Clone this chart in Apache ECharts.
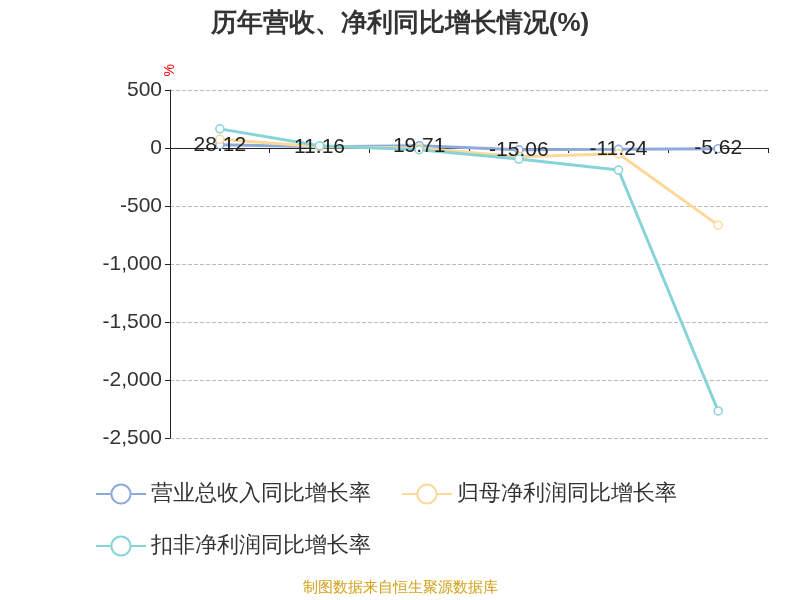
<!DOCTYPE html>
<html><head><meta charset="utf-8">
<script src="https://cdn.jsdelivr.net/npm/echarts@6/dist/echarts.min.js"></script>
<style>html,body{margin:0;padding:0}#c{width:800px;height:600px}</style>
</head><body><div id="c"></div>
<script>
const categories = ['2021','2022','2023','2024','2025','2026H1'];
const revenue = [28.12, 11.16, 19.71, -15.06, -11.24, -5.62];
const netProfit = [75, 10, 0, -75, -50, -665];
const deductProfit = [165, 20, -15, -95, -190, -2267];
const yTicks = {min: -2500, max: 500, interval: 500};
const chart = echarts.init(document.getElementById('c'));
const mk = (name, data, color, label) => ({
  name, type: 'line', data, symbol: 'circle', symbolSize: 8,
  lineStyle: {width: 3, color}, itemStyle: {color: '#fff', borderColor: color, borderWidth: 1.5},
  label: label ? {show: true, position: 'inside', fontSize: 21, color: '#222', formatter: p => p.value.toFixed(2)} : {show: false}
});
chart.setOption({
  title: {text: '历年营收、净利同比增长情况(%)', left: 'center', top: 6, textStyle: {fontSize: 26, fontWeight: 'bold', color: '#333'}},
  grid: {left: 170, right: 32, top: 90, bottom: 162, outerBoundsMode: 'none', containLabel: false},
  legend: {left: 90, top: 478, width: 660, itemWidth: 50, itemHeight: 24, itemGap: 30,
    textStyle: {fontSize: 22, color: '#333'}},
  xAxis: {type: 'category', data: categories, axisLine: {onZero: true, lineStyle: {color: '#222'}},
    axisTick: {show: true, lineStyle: {color: '#222'}},
    axisLabel: {fontSize: 22, color: '#333', margin: 305, interval: 0}},
  yAxis: {type: 'value', ...yTicks, name: '%', nameLocation: 'end', nameRotate: 90, nameGap: 12,
    nameTextStyle: {color: 'red', fontSize: 14, padding: [0, 0, -60, 0]},
    axisLine: {show: true, lineStyle: {color: '#222'}}, axisTick: {show: true},
    axisLabel: {fontSize: 21, color: '#333', formatter: v => v.toLocaleString('en-US')},
    splitLine: {lineStyle: {type: 'dashed', color: '#bbb'}}},
  series: [
    mk('营业总收入同比增长率', revenue, '#8eaadb', true),
    mk('归母净利润同比增长率', netProfit, '#fdd89a', false),
    mk('扣非净利润同比增长率', deductProfit, '#86d4d8', false)
  ],
  graphic: [{type: 'text', left: 'center', top: 580, style: {text: '制图数据来自恒生聚源数据库', fill: '#d4a017', fontSize: 15}}]
});
</script></body></html>
